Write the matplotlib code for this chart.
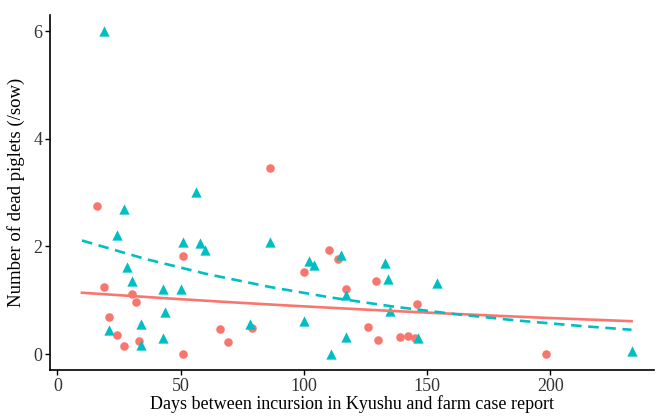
import numpy as np
import matplotlib
matplotlib.use('Agg')
import matplotlib.pyplot as plt

# --- data ---
red_x = [16, 19.1, 21.1, 24.1, 27.2, 30.1, 32.0, 33.1, 51.0, 51.0, 66.1, 69.1,
         79.0, 86.2, 100.1, 110.2, 114.0, 117.1, 126.1, 129.2, 130.1, 139.1,
         142.2, 145.3, 146.1, 198.3]
red_y = [2.76, 1.25, 0.69, 0.36, 0.15, 1.11, 0.97, 0.25, 1.82, 0.0, 0.47, 0.23,
         0.48, 3.45, 1.53, 1.93, 1.76, 1.21, 0.51, 1.35, 0.27, 0.32,
         0.33, 0.30, 0.93, 0.0]

teal_x = [19.1, 21.1, 24.1, 27.2, 28.1, 30.1, 34.1, 34.1, 43.0, 43.8, 43.0,
          50.1, 51.0, 56.1, 58.0, 60.0, 78.1, 86.2, 100.1, 102.1, 104.3,
          111.2, 115.3, 117.1, 117.1, 133.1, 134.2, 135.1, 146.3, 154.1, 233.1]
teal_y = [6.0, 0.45, 2.22, 2.70, 1.61, 1.36, 0.55, 0.16, 1.20, 0.78, 0.30,
          1.21, 2.09, 3.01, 2.06, 1.93, 0.55, 2.09, 0.62, 1.73, 1.65,
          0.0, 1.84, 1.09, 0.31, 1.69, 1.40, 0.80, 0.30, 1.33, 0.06]

fit_x = [10, 35, 60, 85, 110, 135, 160, 185, 210, 233]
fit_red = [1.14, 1.063, 0.991, 0.924, 0.862, 0.803, 0.749, 0.698, 0.651, 0.611]
fit_teal = [2.11, 1.776, 1.494, 1.257, 1.058, 0.890, 0.749, 0.630, 0.530, 0.452]

RED = '#F8766D'
TEAL = '#00BFC4'

plt.rcParams['font.family'] = ['Liberation Serif', 'DejaVu Serif']

fig = plt.figure(figsize=(6.57, 4.16), dpi=100)
ax = fig.add_axes([0.076, 0.11, 0.919, 0.854])

xs = np.linspace(fit_x[0], fit_x[-1], 200)
ax.plot(xs, np.interp(xs, fit_x, fit_red), color=RED, lw=1.9, zorder=3)
ax.plot(xs, np.interp(xs, fit_x, fit_teal), color=TEAL, lw=1.9,
        dashes=(4, 2.5), zorder=3)

ax.scatter(red_x, red_y, s=38, marker='o', color=RED, linewidths=0, zorder=2)
ax.scatter(teal_x, teal_y, s=55, marker='^', color=TEAL, linewidths=0, zorder=2)

ax.set_xlim(-3, 242)
ax.set_ylim(-0.3, 6.3)
ax.set_xticks([0, 50, 100, 150, 200])
ax.set_yticks([0, 2, 4, 6])

for s in ['top', 'right']:
    ax.spines[s].set_visible(False)
for s in ['left', 'bottom']:
    ax.spines[s].set_linewidth(1.2)
ax.tick_params(direction='out', length=3.5, width=1.0, labelsize=13,
               colors='black', pad=2)
ax.tick_params(axis='both', labelcolor='#333333')

ax.set_xlabel('Days between incursion in Kyushu and farm case report',
              fontsize=13, labelpad=0)
ax.set_ylabel('Number of dead piglets (/sow)', fontsize=13.5, labelpad=6)

fig.savefig('out.png', dpi=100)
